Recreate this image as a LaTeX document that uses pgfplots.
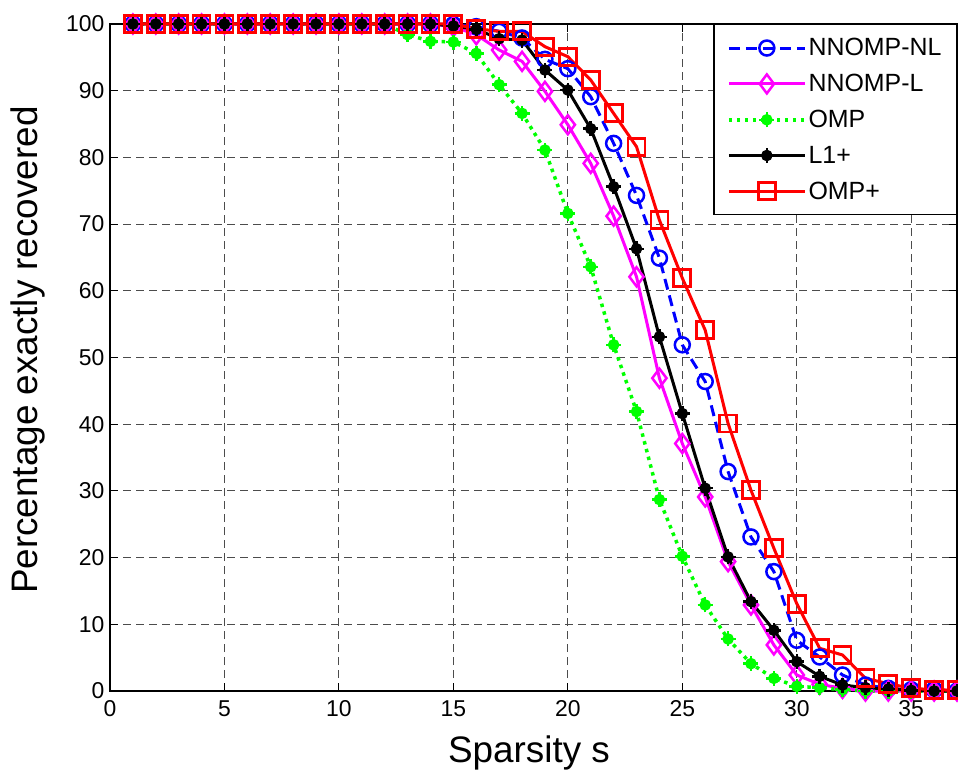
\documentclass[border=0pt]{standalone}
\usepackage{pgfplots}
\pgfplotsset{compat=1.18}
\usepackage{fontspec}
\setmainfont{Liberation Sans}
\usetikzlibrary{calc}
\definecolor{mblue}{RGB}{0,0,255}
\definecolor{mmag}{RGB}{255,0,255}
\definecolor{mgreen}{RGB}{0,255,0}
\definecolor{mred}{RGB}{255,0,0}
\pgfdeclareplotmark{blob}{%
  \pgfpathcircle{\pgfpointorigin}{0.6\pgfplotmarksize}%
  \pgfusepathqfillstroke
  \pgfpathmoveto{\pgfqpoint{-\pgfplotmarksize}{0pt}}\pgfpathlineto{\pgfqpoint{\pgfplotmarksize}{0pt}}%
  \pgfpathmoveto{\pgfqpoint{0pt}{-\pgfplotmarksize}}\pgfpathlineto{\pgfqpoint{0pt}{\pgfplotmarksize}}%
  \pgfusepathqstroke}
\begin{document}
\begin{tikzpicture}
\begin{axis}[
  scale only axis, width=847bp, height=667bp,
  xmin=0, xmax=37, ymin=0, ymax=100,
  xtick={0,5,...,35}, ytick={0,10,...,100},
  tick align=inside, major tick length=8bp,
  grid=major,
  grid style={black!70, line width=0.9bp, dash pattern=on 8bp off 5bp},
  axis line style={line width=1.3bp},
  tick style={line width=1bp, black},
  ticklabel style={font=\fontsize{23}{27}\selectfont},
  xticklabel style={yshift=-6bp},
  yticklabel style={xshift=-2bp},
  /pgf/number format/assume math mode=true,
  xlabel={Sparsity s}, ylabel={Percentage exactly recovered},
  label style={font=\fontsize{37}{44}\selectfont},
  xlabel style={at={(axis description cs:0.4947,-0.093)}, anchor=center},
  ylabel style={at={(axis description cs:-0.0973,0.511)}, anchor=center},
  clip=false,
  legend style={at={(1,1)}, anchor=north east, draw=black, line width=1.2bp,
    font=\fontsize{25}{30}\selectfont, inner xsep=13bp, inner ysep=12bp,
    row sep=13bp, fill=white},
  legend cell align=left,
  legend image code/.code={\draw[mark repeat=2,mark phase=2,#1] plot coordinates {(0bp,0bp) (38bp,0bp) (76bp,0bp)};},
]
\addplot[mblue, line width=3bp, dash pattern=on 11bp off 6bp, mark=o, mark size=7.5bp, mark options={solid, line width=2.5bp}] coordinates {
(1,100)(2,100)(3,100)(4,100)(5,100)(6,100)(7,100)(8,100)(9,100)(10,100)(11,100)(12,100)(13,100)(14,100)(15,99.9)
(16,99.6)(17,98.9)(18,97.9)(19,94.7)(20,93.3)(21,89.1)(22,82.1)(23,74.3)(24,64.9)(25,51.9)(26,46.4)(27,32.9)
(28,23.1)(29,17.9)(30,7.6)(31,5.1)(32,2.4)(33,0.9)(34,0.4)(35,0.2)(36,0.2)(37,0)};
\addlegendentry{NNOMP-NL}
\addplot[mmag, line width=3bp, mark=diamond, mark size=9.5bp, mark options={solid, line width=2.5bp}] coordinates {
(1,100)(2,100)(3,100)(4,100)(5,100)(6,100)(7,100)(8,100)(9,100)(10,100)(11,100)(12,100)(13,100)(14,100)(15,99.6)
(16,98.4)(17,96.1)(18,94.4)(19,89.9)(20,84.9)(21,79.1)(22,71.2)(23,62.1)(24,46.9)(25,37.1)(26,29.1)(27,19.4)
(28,12.9)(29,6.9)(30,2.4)(31,1.0)(32,0.4)(33,0)(34,0)(35,0)(36,0)(37,0)};
\addlegendentry{NNOMP-L}
\addplot[mgreen, line width=3.5bp, dash pattern=on 3.5bp off 4.5bp, mark=blob, mark size=7.5bp, mark options={solid, line width=2.5bp}] coordinates {
(1,100)(2,100)(3,100)(4,100)(5,100)(6,100)(7,100)(8,100)(9,100)(10,100)(11,100)(12,100)(13,98.4)(14,97.4)(15,97.3)
(16,95.6)(17,90.9)(18,86.6)(19,81.1)(20,71.6)(21,63.6)(22,51.9)(23,41.9)(24,28.7)(25,20.2)(26,12.9)(27,7.8)
(28,4.1)(29,1.9)(30,0.7)(31,0.5)(32,0.2)(33,0)(34,0)(35,0)(36,0)(37,0)};
\addlegendentry{OMP}
\addplot[black, line width=3bp, mark=blob, mark size=7.5bp, mark options={solid, line width=2.5bp}] coordinates {
(1,100)(2,100)(3,100)(4,100)(5,100)(6,100)(7,100)(8,100)(9,100)(10,100)(11,100)(12,100)(13,100)(14,100)(15,99.7)
(16,99.2)(17,97.8)(18,97.6)(19,93.1)(20,90.1)(21,84.3)(22,75.6)(23,66.3)(24,53.1)(25,41.6)(26,30.4)(27,20.1)
(28,13.4)(29,9.1)(30,4.4)(31,2.2)(32,0.9)(33,0.5)(34,0.3)(35,0.1)(36,0)(37,0)};
\addlegendentry{L1+}
\addplot[mred, line width=3bp, mark=square, mark size=8.5bp, mark options={solid, line width=2.8bp}] coordinates {
(1,100)(2,100)(3,100)(4,100)(5,100)(6,100)(7,100)(8,100)(9,100)(10,100)(11,100)(12,100)(13,100)(14,100)(15,100)
(16,99.3)(17,98.9)(18,98.9)(19,96.6)(20,95.1)(21,91.6)(22,86.6)(23,81.6)(24,70.6)(25,61.9)(26,54.1)(27,40.1)
(28,30.1)(29,21.4)(30,13.1)(31,6.4)(32,5.4)(33,1.9)(34,1.1)(35,0.4)(36,0.2)(37,0.1)};
\addlegendentry{OMP+}
\end{axis}
\pgfresetboundingbox
\path ($(current axis.south west)+(-110bp,-80bp)$) rectangle ($(current axis.north east)+(1bp,24bp)$);
\end{tikzpicture}
\end{document}
